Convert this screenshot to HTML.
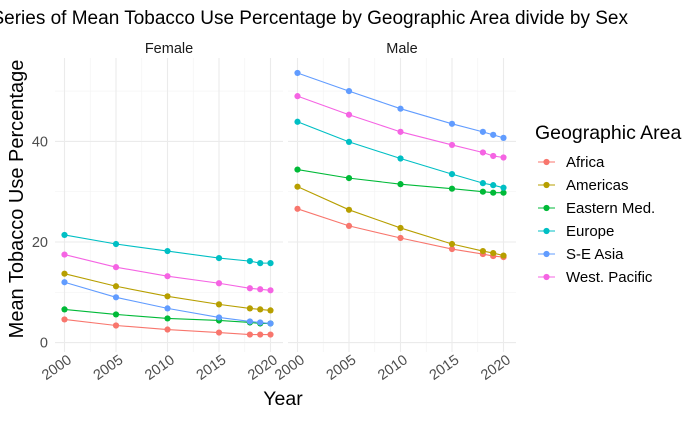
<!DOCTYPE html>
<html><head><meta charset="utf-8"><style>
body{margin:0;background:#fff;font-family:"Liberation Sans",sans-serif;}
svg text{font-family:"Liberation Sans",sans-serif;}
</style></head><body>
<svg id="c" width="690" height="417" viewBox="0 0 690 417"></svg>
<script>
const years=[2000,2005,2010,2015,2018,2019,2020];
const regions=["Africa","Americas","Eastern Med.","Europe","S-E Asia","West. Pacific"];
const colors=["#F8766D","#B79F00","#00BA38","#00BFC4","#619CFF","#F564E3"];
const female=[[4.6,3.4,2.6,2.0,1.6,1.6,1.6],[13.7,11.2,9.2,7.6,6.8,6.6,6.4],[6.6,5.6,4.8,4.4,4.0,3.8,3.8],[21.4,19.6,18.2,16.8,16.2,15.8,15.8],[12.0,9.0,6.8,5.0,4.2,4.0,3.8],[17.5,15.0,13.2,11.8,10.8,10.6,10.4]];
const male=[[26.6,23.2,20.8,18.6,17.6,17.2,17.0],[31.0,26.4,22.8,19.6,18.2,17.8,17.3],[34.4,32.7,31.5,30.6,30.0,29.8,29.8],[43.9,39.9,36.6,33.5,31.7,31.3,30.8],[53.6,50.0,46.5,43.5,41.9,41.3,40.7],[49.0,45.3,41.9,39.3,37.8,37.1,36.8]];
const yTicks=[0,20,40];
const xTicks=[2000,2005,2010,2015,2020];
const svg=document.getElementById('c');
const NS='http://www.w3.org/2000/svg';
function mk(t,a,p){const e=document.createElementNS(NS,t);for(const k in a)e.setAttribute(k,a[k]);(p||svg).appendChild(e);return e;}
const y=v=>342.6-v*5.03;
const panels=[{name:"Female",x0:55,x1:283,d:female},{name:"Male",x0:288,x1:516,d:male}];
const yTop=58,yBot=352;
panels.forEach((p,pi)=>{
  const x=yr=>p.x0+9.5+(yr-2000)*10.3;
  const g=mk('g',{});
  
  
  for(let v=10;v<=50;v+=20)mk('line',{x1:p.x0,x2:p.x1,y1:y(v),y2:y(v),stroke:'#f3f3f3','stroke-width':0.6},g);
  for(let yr=2002.5;yr<=2020;yr+=5)mk('line',{x1:x(yr),x2:x(yr),y1:yTop,y2:yBot,stroke:'#f3f3f3','stroke-width':0.6},g);
  yTicks.forEach(v=>mk('line',{x1:p.x0,x2:p.x1,y1:y(v),y2:y(v),stroke:'#ebebeb','stroke-width':1.1},g));
  xTicks.forEach(yr=>{
    mk('line',{x1:x(yr),x2:x(yr),y1:yTop,y2:yBot,stroke:'#ebebeb','stroke-width':1.1},g);
    const t=mk('text',{x:x(yr)+8,y:362,'font-size':14.5,fill:'#4d4d4d','text-anchor':'end',transform:`rotate(-35 ${x(yr)+8} 362)`},g);
    t.textContent=yr;
    
    
  });
  const s=mk('text',{x:(p.x0+p.x1)/2,y:53,'font-size':14.5,fill:'#1a1a1a','text-anchor':'middle'},g);
  s.textContent=p.name;
  
  
  p.d.forEach((ser,ri)=>{
    const pl=mk('polyline',{points:ser.map((v,i)=>x(years[i])+','+y(v)).join(' '),fill:'none',stroke:colors[ri],'stroke-width':1.1},g);
    
    
    ser.forEach((v,i)=>{
      const c=mk('circle',{cx:x(years[i]),cy:y(v),r:3.1,fill:colors[ri]},g);
      
      
    });
  });
});
yTicks.forEach(v=>{
  const t=mk('text',{x:48,y:y(v)+5,'font-size':14.5,fill:'#4d4d4d','text-anchor':'end'});
  t.textContent=v;
  
  
});
const tt=mk('text',{x:628,y:24,'font-size':19,fill:'#000','text-anchor':'end'});
tt.textContent="Series of Mean Tobacco Use Percentage by Geographic Area divide by Sex";


const yt=mk('text',{x:23,y:199,'font-size':20,fill:'#000','text-anchor':'middle',transform:'rotate(-90 23 199)'});
yt.textContent="Mean Tobacco Use Percentage";


const xt=mk('text',{x:283,y:405,'font-size':19.5,fill:'#000','text-anchor':'middle'});
xt.textContent="Year";


const lt=mk('text',{x:535,y:139,'font-size':19.5,fill:'#000'});
lt.textContent="Geographic Area";


regions.forEach((r,i)=>{
  const cy=162+i*23;
  const g=mk('g',{});
  
  
  mk('line',{x1:538,x2:555,y1:cy,y2:cy,stroke:colors[i],'stroke-width':1.1},g);
  mk('circle',{cx:546.5,cy:cy,r:3.1,fill:colors[i]},g);
  const t=mk('text',{x:566,y:cy+5,'font-size':15,fill:'#000'},g);
  t.textContent=r;
});
</script>
</body></html>
